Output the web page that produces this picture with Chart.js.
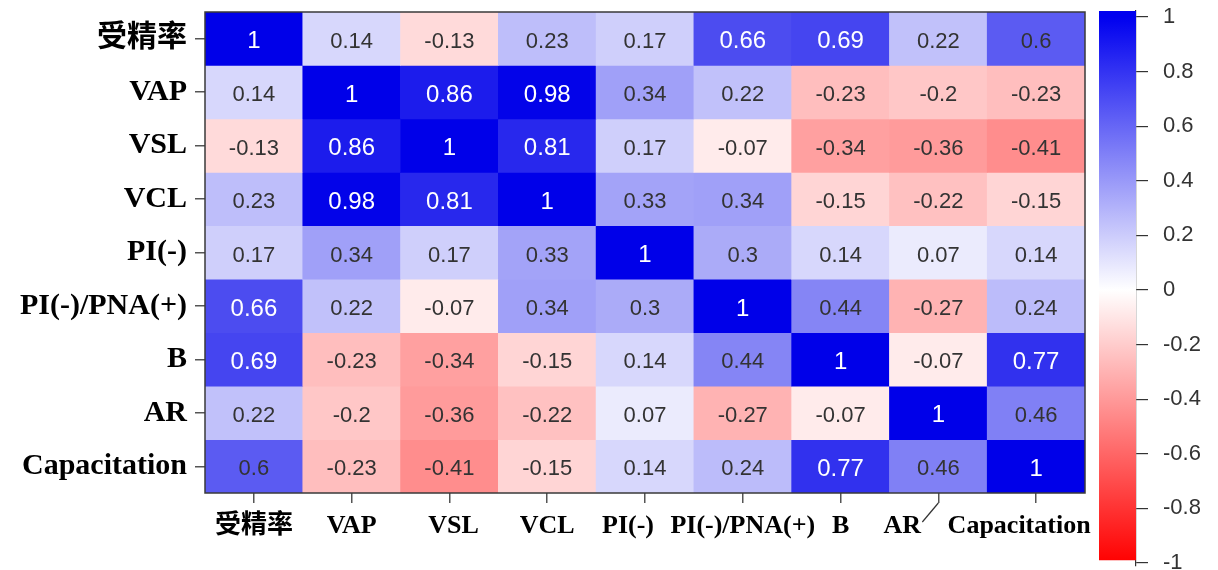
<!DOCTYPE html>
<html>
<head>
<meta charset="utf-8">
<script src="https://cdn.jsdelivr.net/npm/chart.js@4.4.1/dist/chart.umd.min.js"></script>
<style>
  body { margin: 0; background: #fff; }
  #wrap { position: relative; width: 1218px; height: 570px; }
  #heat { position: absolute; left: 0; top: 0; }
  #bar { position: absolute; left: 1090px; top: 0; }
</style>
</head>
<body>
<div id="wrap">
  <canvas id="heat" width="1218" height="570"></canvas>
  <canvas id="bar" width="128" height="570"></canvas>
</div>
<script>
// variable names (rows top to bottom, columns left to right)
const vars = ['受精率', 'VAP', 'VSL', 'VCL', 'PI(-)', 'PI(-)/PNA(+)', 'B', 'AR', 'Capacitation'];

// correlation rows
const rowFert = [1, 0.14, -0.13, 0.23, 0.17, 0.66, 0.69, 0.22, 0.6];
const rowVAP  = [0.14, 1, 0.86, 0.98, 0.34, 0.22, -0.23, -0.2, -0.23];
const rowVSL  = [-0.13, 0.86, 1, 0.81, 0.17, -0.07, -0.34, -0.36, -0.41];
const rowVCL  = [0.23, 0.98, 0.81, 1, 0.33, 0.34, -0.15, -0.22, -0.15];
const rowPI   = [0.17, 0.34, 0.17, 0.33, 1, 0.3, 0.14, 0.07, 0.14];
const rowPNA  = [0.66, 0.22, -0.07, 0.34, 0.3, 1, 0.44, -0.27, 0.24];
const rowB    = [0.69, -0.23, -0.34, -0.15, 0.14, 0.44, 1, -0.07, 0.77];
const rowAR   = [0.22, -0.2, -0.36, -0.22, 0.07, -0.27, -0.07, 1, 0.46];
const rowCap  = [0.6, -0.23, -0.41, -0.15, 0.14, 0.24, 0.77, 0.46, 1];
const matrix = [rowFert, rowVAP, rowVSL, rowVCL, rowPI, rowPNA, rowB, rowAR, rowCap];

// colour bar ticks
const legendTicks = [-1, -0.8, -0.6, -0.4, -0.2, 0, 0.2, 0.4, 0.6, 0.8, 1];

Chart.defaults.font.family = '"Liberation Sans", Arial, sans-serif';
Chart.defaults.animation = false;

const serif = '"Liberation Serif", "Times New Roman", "Noto Sans CJK SC", serif';

// red - white - blue, a touch deeper than plain linear like the scanned figure
function cellColor(v) {
  const t = Math.pow(1 - Math.abs(v), 1.12);
  const c = Math.round(255 * t);
  if (v >= 0) {
    const b = Math.round(255 - 22 * v);
    return `rgb(${c},${c},${b})`;
  }
  return `rgb(255,${c},${c})`;
}

// hand-placed x labels in the original, shifted a bit from their ticks
const xLabelShift = [0, 0, 4, 0, -17, 0, 0, -36, -17];

const heatPlugin = {
  id: 'heatText',
  afterDatasetsDraw(chart) {
    const ctx = chart.ctx;
    ctx.save();
    ctx.textAlign = 'center';
    ctx.textBaseline = 'middle';
    chart.data.datasets.forEach((ds, r) => {
      chart.getDatasetMeta(r).data.forEach((bar, c) => {
        const v = matrix[r][c];
        const p = bar.getProps(['x', 'y', 'base'], true);
        const light = v >= 0.65;
        ctx.font = (light ? '24px' : '22px') + ' "Liberation Sans", Arial, sans-serif';
        ctx.fillStyle = light ? '#ffffff' : '#333333';
        ctx.fillText(String(v), p.x, (p.y + p.base) / 2 + 3);
      });
    });
    // frame
    const a = chart.chartArea;
    ctx.strokeStyle = '#3a3a3a';
    ctx.lineWidth = 1.5;
    ctx.strokeRect(a.left, a.top, a.right - a.left, a.bottom - a.top);
    ctx.restore();
  },
  afterDraw(chart) {
    const ctx = chart.ctx;
    const xs = chart.scales.x;
    const a = chart.chartArea;
    ctx.save();
    ctx.fillStyle = '#000';
    ctx.font = 'bold 26px ' + serif;
    ctx.textAlign = 'center';
    ctx.textBaseline = 'middle';
    vars.forEach((name, i) => {
      ctx.fillText(name, xs.getPixelForValue(i) + xLabelShift[i], a.bottom + 33);
    });
    // little leader line from the AR tick to its label
    const px = xs.getPixelForValue(7);
    ctx.strokeStyle = '#333';
    ctx.lineWidth = 1.2;
    ctx.beginPath();
    ctx.moveTo(px, a.bottom + 10);
    ctx.lineTo(px - 16, a.bottom + 29);
    ctx.stroke();
    ctx.restore();
  }
};

const heatData = {
  labels: vars,
  datasets: matrix.map((row, r) => ({
    label: vars[r],
    data: row.map(() => [r, r + 1]),
    backgroundColor: row.map(cellColor),
    borderWidth: 0,
    barPercentage: 1,
    categoryPercentage: 1,
    grouped: false
  }))
};

new Chart(document.getElementById('heat'), {
  type: 'bar',
  data: heatData,
  options: {
    responsive: false,
    layout: { padding: { left: 0, right: 133, top: 12, bottom: 0 } },
    plugins: { legend: { display: false }, tooltip: { enabled: false } },
    scales: {
      x: {
        offset: true,
        grid: { offset: false, drawOnChartArea: false, drawTicks: true, tickLength: 10, color: '#555', lineWidth: 1.5 },
        border: { display: false },
        ticks: { display: false },
        afterFit: s => { s.height = 77; s.paddingLeft = 0; s.paddingRight = 0; }
      },
      y: {
        type: 'linear',
        reverse: true,
        min: 0,
        max: 9,
        afterBuildTicks: s => { s.ticks = vars.map((_, i) => ({ value: i + 0.5 })); },
        grid: { drawOnChartArea: false, drawTicks: true, tickLength: 10, color: '#555', lineWidth: 1.5 },
        border: { display: false },
        ticks: {
          autoSkip: false,
          padding: 8,
          color: '#000',
          font: { family: serif, size: 30, weight: 'bold' },
          callback: v => vars[Math.floor(v)]
        },
        afterFit: s => { s.width = 205; s.paddingTop = 0; s.paddingBottom = 0; }
      }
    }
  },
  plugins: [heatPlugin]
});

// colour bar
new Chart(document.getElementById('bar'), {
  type: 'bar',
  data: {
    labels: [''],
    datasets: [{
      data: [[-0.989, 1.022]],
      barPercentage: 1,
      categoryPercentage: 1,
      borderWidth: 0,
      backgroundColor: c => {
        const ch = c.chart;
        if (!ch.chartArea) return '#fff';
        const y = ch.scales.y;
        const g = ch.ctx.createLinearGradient(0, y.getPixelForValue(1), 0, y.getPixelForValue(-1));
        g.addColorStop(0, '#0000ef');
        g.addColorStop(0.5, '#ffffff');
        g.addColorStop(1, '#ff0000');
        return g;
      }
    }]
  },
  options: {
    responsive: false,
    layout: { padding: { left: 9, right: 0, top: 11, bottom: 4 } },
    plugins: { legend: { display: false }, tooltip: { enabled: false } },
    scales: {
      x: { display: false },
      y: {
        position: 'right',
        min: -1.011,
        max: 1.022,
        afterBuildTicks: s => { s.ticks = legendTicks.map(v => ({ value: v })); },
        grid: { drawOnChartArea: false, tickLength: 12, color: '#333', lineWidth: 1.2 },
        border: { display: true, color: '#333', width: 1.2 },
        ticks: {
          padding: 15,
          color: '#333',
          font: { size: 22 },
          callback: v => String(v)
        },
        afterFit: s => { s.width = 82; s.paddingTop = 0; s.paddingBottom = 0; }
      }
    }
  }
});
</script>
</body>
</html>
